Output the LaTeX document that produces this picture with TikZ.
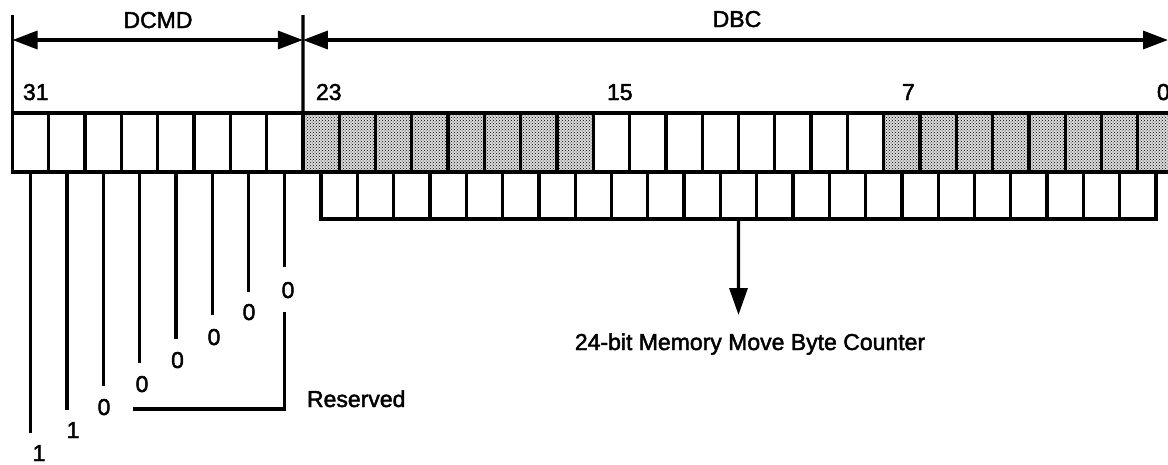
\documentclass[tikz,border=0pt]{standalone}
\usepackage{fontspec}
\setmainfont{Liberation Sans}
\newfontfamily\lblfont[FakeBold=2]{Liberation Sans}
\usetikzlibrary{arrows.meta,patterns}
\begin{document}
\begin{tikzpicture}[x=1pt,y=-1pt,
  reg/.style={draw, line width=3.3pt, inner sep=0pt, outer sep=0pt, minimum width=36.3pt},
  topcell/.style={reg, minimum height=59pt},
  topdot/.style={topcell, preaction={fill=black!14}, pattern=crosshatch dots},
  lowcell/.style={reg, minimum height=47pt},
  conn/.style={line width=3.3pt},
  dimarrow/.style={conn, {Triangle[length=25pt,width=18pt]}-{Triangle[length=25pt,width=18pt]}},
  downarrow/.style={conn, -{Triangle[length=27pt,width=18pt]}},
  lbl/.style={font=\lblfont\fontsize{23}{27}\selectfont, inner sep=0pt, outer sep=0pt},
]
\useasboundingbox (0,0) rectangle (1168,464);
\clip (0,0) rectangle (1168,464);

% upper register (bits 31..0)
\foreach \i in {0,...,7}{
  \node[topcell] (t\i) at ({12.5+36.3*(\i+0.5)},142.5) {};
}
\foreach \i in {8,...,15}{
  \node[topdot] (t\i) at ({12.5+36.3*(\i+0.5)},142.5) {};
}
\foreach \i in {16,...,23}{
  \node[topcell] (t\i) at ({12.5+36.3*(\i+0.5)},142.5) {};
}
\foreach \i in {24,...,31}{
  \node[topdot] (t\i) at ({12.5+36.3*(\i+0.5)},142.5) {};
}

% lower register (24-bit counter)
\foreach \i in {0,...,22}{
  \node[lowcell] (l\i) at ({321.05+36.3*(\i+0.5)},195.5) {};
}

% dimension lines
\coordinate (k0) at (12.5,15);
\coordinate (k8) at (302.9,15);
\draw[conn] (t0.north west) -- (k0);
\draw[conn] (t8.north west) -- (k8);
\coordinate (dl) at (12.5,40);
\coordinate (dm) at (302.9,40);
\coordinate (dr) at (1168,40);
\draw[dimarrow] (dl) -- (dm);
\draw[dimarrow] (dm) -- (dr);
\node[lbl, anchor=base] (dcmd) at (158,28) {DCMD};
\node[lbl, anchor=base] (dbc) at (737,27) {DBC};

% bit numbers
\node[lbl, anchor=base west] (n31) at (23,100) {31};
\node[lbl, anchor=base west] (n23) at (316,100) {23};
\node[lbl, anchor=base west] (n15) at (607,100) {15};
\node[lbl, anchor=base west] (n7) at (902,100) {7};
\node[lbl, anchor=base west] (n0) at (1157,100) {0};

% DCMD bit lines and values
\foreach \i/\e/\lx/\ly/\v in {0/433/39/461/1, 1/410/73/438/1, 2/386/104/415/0, 3/363/142/392/0, 4/339/177.5/368/0, 5/315/214/345/0, 6/292/249/320/0, 7/267/288/298/0}{
  \coordinate (e\i) at ({12.5+36.3*(\i+0.5)},\e);
  \draw[conn] (t\i.south) -- (e\i);
  \node[lbl, anchor=base] (b\i) at (\lx,\ly) {\v};
}

% reserved bracket
\coordinate (r1) at (284.75,312);
\coordinate (r3) at (133,409);
\draw[conn] (r1) |- (r3);
\node[lbl, anchor=base west] (res) at (307,407) {Reserved};

% byte counter
\node[lbl, anchor=base] (cnt) at (750,350) {24-bit Memory Move Byte Counter};
\coordinate (ctip) at (738.5,315);
\draw[downarrow] (l11.south) -- (ctip);
\end{tikzpicture}
\end{document}
